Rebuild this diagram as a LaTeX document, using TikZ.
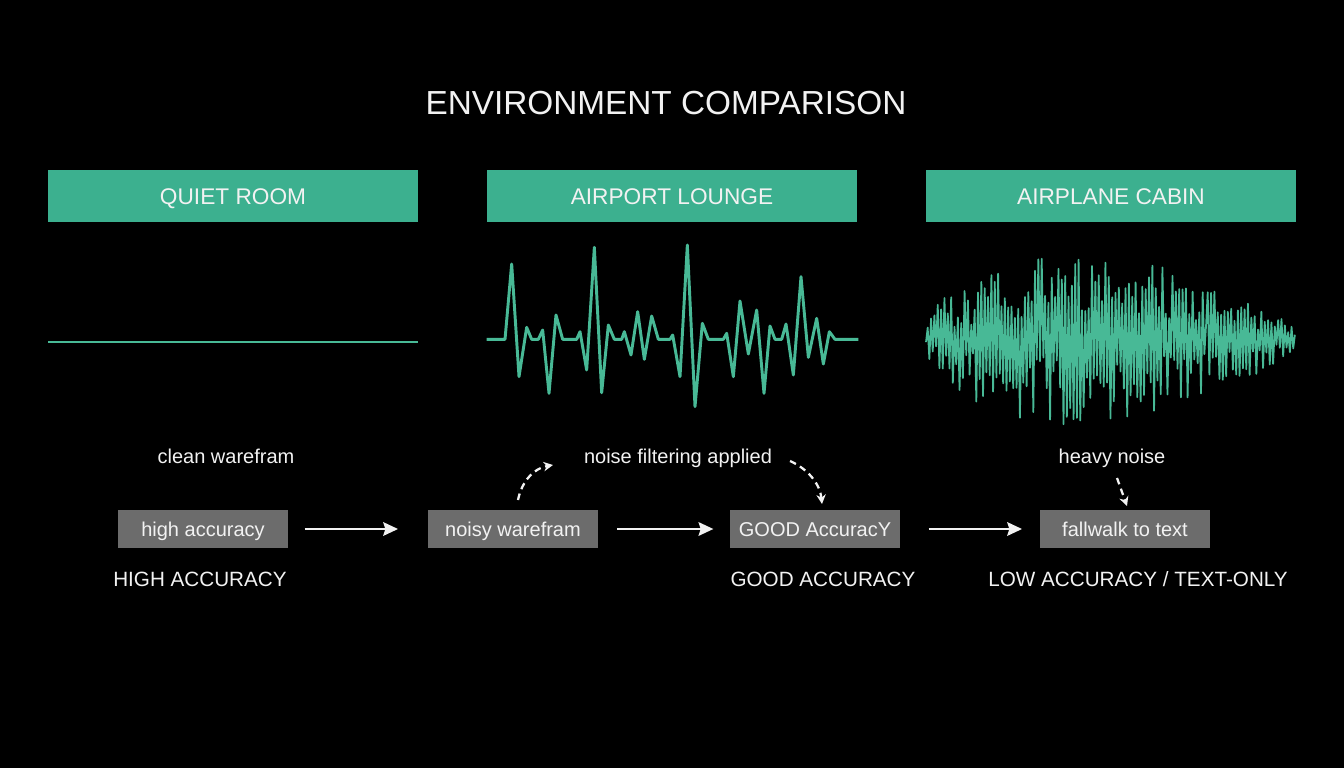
\documentclass[tikz,border=0pt]{standalone}
\usepackage{fontspec}
\setmainfont{Liberation Sans}
\usetikzlibrary{arrows.meta}
\definecolor{teal1}{HTML}{3CB08F}
\definecolor{wave}{HTML}{48B996}
\definecolor{boxg}{HTML}{6C6C6C}
\definecolor{txt}{HTML}{F2F2F2}
\begin{document}
\begin{tikzpicture}[x=0.75pt,y=-0.75pt,
 hdr/.style={fill=teal1, text=txt, minimum width=277.5pt, minimum height=39pt, inner sep=0pt, text height=12.2pt, text depth=0pt, font=\fontsize{17}{20}\selectfont},
 stage/.style={fill=boxg, text=txt, minimum width=128pt, minimum height=28.5pt, inner sep=0pt, text height=11.1pt, text depth=0pt, font=\fontsize{15}{18}\selectfont},
 note/.style={text=txt, inner sep=0pt, text height=11.1pt, text depth=0pt, font=\fontsize{15}{18}\selectfont},
 verdict/.style={text=txt, inner sep=0pt, text height=11.2pt, text depth=0pt, font=\fontsize{15.5}{18}\selectfont},
 arr/.style={draw=txt, line width=2.2pt, -{Stealth[length=11pt,width=10pt,inset=1.5pt]}},
 darr/.style={draw=txt, line width=1.7pt, dash pattern=on 5pt off 3.5pt, -{Stealth[length=7pt,width=7pt]}},
 wv/.style={draw=wave, line join=round}]
\fill[black] (0,0) rectangle (1344,768);
\useasboundingbox (0,0) rectangle (1344,768);

\node[text=txt, inner sep=0pt, text height=18pt, text depth=0pt, font=\fontsize{25}{30}\selectfont] (title) at (666,102) {ENVIRONMENT COMPARISON};

\node[hdr] (h1) at (233,196) {QUIET ROOM};
\node[hdr] (h2) at (672,196) {AIRPORT LOUNGE};
\node[hdr] (h3) at (1111,196) {AIRPLANE CABIN};

% quiet waveform
\draw[wv, line width=2pt] (48,342) -- (418,342);

% airport waveform
\begin{scope}[shift={(480,240)}, x=0.25pt, y=-0.25pt]
\draw[wv, line width=2.2pt] (20,298) -- (75,298) -- (95,72) -- (117,410) -- (140,262) -- (155,298) -- (175,298) -- (188,270) -- (207,460) -- (228,225) -- (248,298) -- (290,298) -- (300,275) -- (320,390) -- (343,22) -- (365,458) -- (385,255) -- (403,298) -- (425,298) -- (433,275) -- (453,345) -- (473,215) -- (493,358) -- (515,228) -- (535,298) -- (570,298) -- (578,285) -- (600,410) -- (622,15) -- (645,500) -- (667,250) -- (685,298) -- (730,298) -- (740,280) -- (760,410) -- (780,183) -- (805,342) -- (830,210) -- (852,460) -- (870,258) -- (885,298) -- (905,298) -- (918,252) -- (940,405) -- (963,110) -- (985,352) -- (1010,235) -- (1030,372) -- (1048,275) -- (1065,298) -- (1135,298);
\end{scope}

% cabin waveform
\pgfmathsetseed{23}
\draw[wv, line width=1.3pt] plot[samples=221, domain=0:1, variable=\t]
  ({926+370*\t}, {339 + (1-2*mod(round(220*\t),2))*(6+90*sqrt(abs(sin(180*\t)))*(1-0.55*\t*\t))*(0.22+0.78*rnd)});

% notes
\node[note] (n1) at (226,456) {clean warefram};
\node[note] (n2) at (678,456) {noise filtering applied};
\node[note] (n3) at (1112,456) {heavy noise};

% stage boxes
\node[stage] (b1) at (203,529) {high accuracy};
\node[stage] (b2) at (513,529) {noisy warefram};
\node[stage] (b3) at (815,529) {GOOD AccuracY};
\node[stage] (b4) at (1125,529) {fallwalk to text};

% verdicts
\node[verdict] (v1) at (200,579) {HIGH ACCURACY};
\node[verdict] (v2) at (823,579) {GOOD ACCURACY};
\node[verdict] (v3) at (1138,579) {LOW ACCURACY / TEXT-ONLY};

% arrows
\draw[arr, shorten <=12pt, shorten >=22pt] (b1.east) -- (b2.west);
\draw[arr, shorten <=14pt, shorten >=12pt] (b2.east) -- (b3.west);
\draw[arr, shorten <=21pt, shorten >=13pt] (b3.east) -- (b4.west);

% dashed arrows
\coordinate (d1s) at (518,500);
\coordinate (d1e) at (553,465);
\draw[darr] (d1s) .. controls (522,480) and (535,468) .. (d1e);
\coordinate (d2s) at (790,461);
\coordinate (d2e) at (822,504);
\draw[darr] (d2s) .. controls (808,469) and (820,484) .. (d2e);
\coordinate (d3s) at (1117,478);
\coordinate (d3e) at (1127,506);
\draw[darr] (d3s) -- (d3e);
\end{tikzpicture}
\end{document}
